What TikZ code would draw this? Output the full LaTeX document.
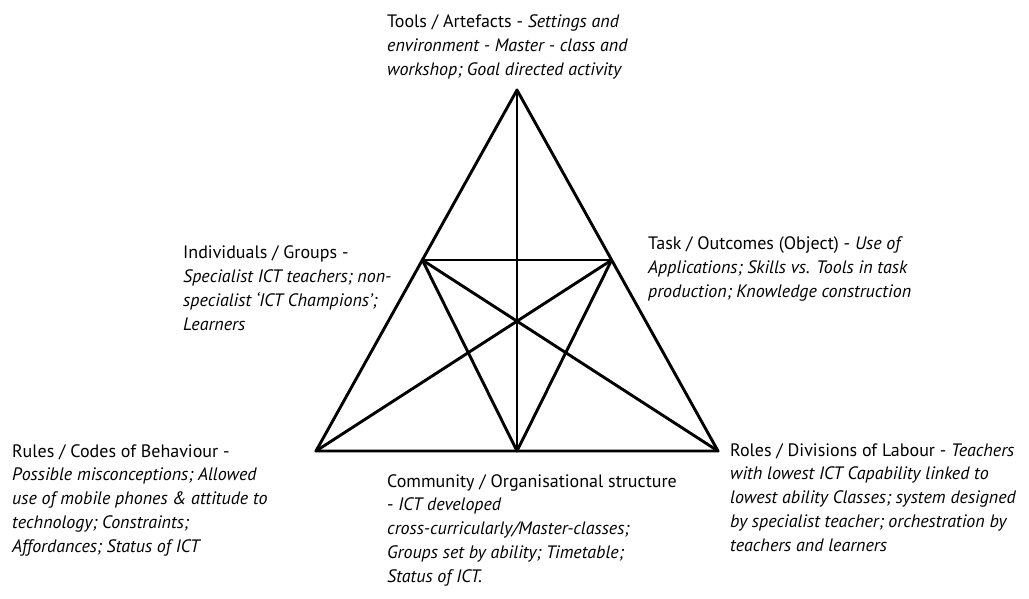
\documentclass[tikz,border=0pt]{standalone}
\usepackage{fontspec}
\setmainfont{PT Sans}
\usetikzlibrary{calc}
\begin{document}
\begin{tikzpicture}[x=1pt,y=1pt,yscale=-1,xscale=1,
    edge/.style={line width=2.9pt,line join=round,line cap=round},
    lbl/.style={anchor=base west,align=left,inner sep=0pt,font=\fontsize{18}{23.7}\selectfont}]
        \useasboundingbox (0,0) rectangle (1029,598);

        %Corners of the triangle
        \coordinate (tools) at (517,90);
        \coordinate (rules) at (316,451);
        \coordinate (roles) at (718,451);
        %Mid points
        \coordinate (subject) at ($(tools)!0.471!(rules)$);
        \coordinate (object) at ($(tools)!0.471!(roles)$);
        \coordinate (community) at ($(rules)!0.5!(roles)$);

        %Outer triangle
        \draw [edge] (tools) -- (rules) -- (roles) -- cycle ;
        %Straight Lines
        \draw [edge] (tools) -- (community) ;
        \draw [edge] (subject) -- (object) ;
        \draw [edge] (subject) -- (community) -- (object) ;
        \draw [edge] (subject) -- (roles) ;
        \draw [edge] (object) -- (rules) ;

        %Labels (placed at the baseline of their last line)
        \node [lbl] (toolsText) at (387,75) {Tools / Artefacts - \textit{Settings and}\\\textit{environment - Master - class and}\\\textit{workshop; Goal directed activity}};
        \node [lbl] (subjectText) at (183,330) {Individuals / Groups -\\\textit{Specialist ICT teachers; non-}\\\textit{specialist ‘ICT Champions’;}\\\textit{Learners}};
        \node [lbl] (objectText) at (648,297) {Task / Outcomes (Object) - \textit{Use of}\\\textit{Applications; Skills vs. Tools in task}\\\textit{production; Knowledge construction}};
        \node [lbl] (rulesText) at (12,552) {Rules / Codes of Behaviour -\\\textit{Possible misconceptions; Allowed}\\\textit{use of mobile phones \& attitude to}\\\textit{technology; Constraints;}\\\textit{Affordances; Status of ICT}};
        \node [lbl] (communityText) at (387,582) {Community / Organisational structure\\- \textit{ICT developed}\\\textit{cross-curricularly/Master-classes;}\\\textit{Groups set by ability; Timetable;}\\\textit{Status of ICT.}};
        \node [lbl] (rolesText) at (730,551) {Roles / Divisions of Labour - \textit{Teachers}\\\textit{with lowest ICT Capability linked to}\\\textit{lowest ability Classes; system designed}\\\textit{by specialist teacher; orchestration by}\\\textit{teachers and learners}};
\end{tikzpicture}
\end{document}
